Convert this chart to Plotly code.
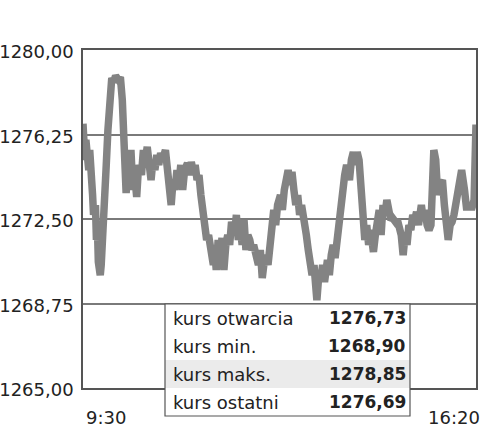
import plotly.graph_objects as go

# minutes after 9:30 and index level
minutes = [0, 1, 2, 3, 4, 5, 6, 7, 8, 9, 10, 11, 13, 14, 15, 16, 18, 19, 20, 21,
           22, 24, 26, 28, 30, 32, 34, 37, 39, 41, 43, 44, 45, 47, 48, 50, 52, 54, 56, 58,
           61, 63, 65, 67, 69, 71, 73, 75, 77, 79, 81, 83, 86, 88, 90, 92, 94, 96, 98, 100,
           102, 104, 106, 109, 111, 113, 115, 117, 119, 121, 123, 125, 127, 129, 131, 134, 136, 137, 139, 141,
           143, 145, 147, 149, 151, 153, 155, 158, 160, 162, 164, 166, 168, 170, 172, 174, 176, 178, 180, 183,
           185, 187, 189, 191, 193, 195, 197, 199, 201, 203, 206, 208, 210, 212, 214, 216, 218, 220, 222, 224,
           226, 228, 231, 233, 235, 237, 239, 241, 243, 244, 246, 248, 250, 252, 255, 257, 259, 261, 263, 265,
           267, 269, 271, 273, 275, 278, 280, 282, 284, 286, 288, 290, 292, 294, 296, 298, 300, 303, 305, 307,
           309, 311, 313, 315, 317, 319, 321, 323, 326, 328, 330, 332, 334, 336, 338, 340, 342, 344, 346, 348,
           350, 353, 355, 357, 359, 361, 363, 365, 366, 368, 370, 372, 375, 377, 379, 381, 383, 385, 387, 389,
           391, 393, 395, 398, 400, 402, 404, 406, 408, 410]

prices = [1276.73, 1275.78, 1275.12, 1276.01, 1274.90, 1275.78, 1274.67, 1275.56, 1274.01, 1274.90,
          1273.56, 1272.68, 1273.12, 1271.57, 1272.23, 1270.59, 1270.01, 1270.46, 1271.12, 1272.01,
          1273.12, 1274.67, 1276.45, 1278.00, 1278.76, 1278.58, 1278.85, 1278.67, 1278.80, 1277.78,
          1276.01, 1274.67, 1273.65, 1275.12, 1273.79, 1275.56, 1273.79, 1274.45, 1273.48, 1274.90,
          1274.45, 1275.56, 1275.12, 1275.70, 1274.67, 1274.23, 1275.12, 1274.67, 1275.34, 1274.90,
          1275.43, 1275.12, 1275.56, 1274.45, 1273.56, 1273.12, 1274.23, 1273.79, 1274.67, 1274.01,
          1274.90, 1273.79, 1274.67, 1274.98, 1274.45, 1275.03, 1274.59, 1274.90, 1274.23, 1274.45,
          1273.56, 1272.90, 1272.46, 1271.57, 1271.79, 1270.90, 1270.46, 1271.35, 1270.24, 1271.57,
          1270.68, 1271.66, 1270.24, 1271.35, 1271.79, 1271.35, 1272.37, 1271.79, 1272.68, 1271.57,
          1272.23, 1271.35, 1272.46, 1271.12, 1271.79, 1271.57, 1271.12, 1271.35, 1270.90, 1270.46,
          1271.12, 1269.88, 1270.59, 1270.90, 1270.46, 1271.35, 1272.01, 1272.90, 1272.23, 1273.12,
          1273.56, 1272.90, 1273.79, 1274.23, 1274.67, 1274.01, 1274.59, 1273.79, 1273.12, 1273.56,
          1272.68, 1273.12, 1272.46, 1271.79, 1271.12, 1270.59, 1270.01, 1270.46, 1269.35, 1268.90,
          1270.01, 1269.79, 1270.46, 1269.70, 1270.68, 1270.01, 1270.90, 1271.35, 1270.77, 1271.57,
          1272.23, 1273.34, 1274.01, 1274.45, 1274.90, 1274.23, 1275.12, 1275.47, 1274.90, 1275.47,
          1275.12, 1273.79, 1272.68, 1271.57, 1272.23, 1271.35, 1272.01, 1271.04, 1271.79, 1272.46,
          1272.90, 1271.79, 1273.12, 1272.68, 1273.34, 1272.90, 1272.46, 1272.54, 1272.37, 1272.46,
          1272.23, 1271.79, 1270.90, 1271.79, 1271.35, 1272.23, 1272.01, 1272.68, 1272.46, 1272.81,
          1272.23, 1273.12, 1272.46, 1272.90, 1272.23, 1272.01, 1272.23, 1274.23, 1275.56, 1275.12,
          1273.56, 1274.01, 1274.23, 1273.12, 1272.46, 1271.57, 1272.23, 1272.37, 1272.68, 1273.34,
          1273.56, 1274.45, 1274.67, 1273.79, 1273.03, 1273.03, 1273.03, 1273.03, 1273.34, 1276.69]

y_ticks = [1265.00, 1268.75, 1272.50, 1276.25, 1280.00]
y_tick_labels = ["1265,00", "1268,75", "1272,50", "1276,25", "1280,00"]
x_labels = ["9:30", "16:20"]

table_labels = ["kurs otwarcia", "kurs min.", "kurs maks.", "kurs ostatni"]
table_values = ["1276,73", "1268,90", "1278,85", "1276,69"]

W, H = 500, 441
L, R, T, B = 83, 476, 50, 388


def px(x):
    return (x - L) / (R - L)


def py(y):
    return (B - y) / (B - T)


fig = go.Figure()

fig.add_trace(go.Scatter(
    x=minutes, y=prices, mode="lines",
    line=dict(color="#838383", width=7.5),
    hoverinfo="skip", showlegend=False
))

shapes = []
annotations = []

# inset table
tx0, tx1, ty0, row_h = 165, 410, 304, 28
shapes.append(dict(type="rect", xref="paper", yref="paper",
                   x0=px(tx0), x1=px(tx1), y0=py(ty0 + 4 * row_h), y1=py(ty0),
                   fillcolor="white", line=dict(width=0), layer="above"))
shapes.append(dict(type="rect", xref="paper", yref="paper",
                   x0=px(tx0), x1=px(tx1), y0=py(ty0 + 3 * row_h), y1=py(ty0 + 2 * row_h),
                   fillcolor="#ebebeb", line=dict(width=0), layer="above"))
shapes.append(dict(type="rect", xref="paper", yref="paper",
                   x0=px(tx0), x1=px(tx1), y0=py(ty0 + 4 * row_h), y1=py(ty0),
                   fillcolor="rgba(0,0,0,0)", line=dict(color="#555555", width=1.2), layer="above"))

for i, (lab, val) in enumerate(zip(table_labels, table_values)):
    yc = py(ty0 + row_h * (i + 0.5))
    annotations.append(dict(xref="paper", yref="paper", x=px(171), y=yc,
                            text=lab, showarrow=False, xanchor="left", yanchor="middle",
                            font=dict(family="DejaVu Sans", size=18, color="#222222")))
    annotations.append(dict(xref="paper", yref="paper", x=px(408), y=yc,
                            text="<b>" + val + "</b>", showarrow=False, xanchor="right", yanchor="middle",
                            font=dict(family="DejaVu Sans", size=17, color="#222222")))

annotations.append(dict(xref="x", yref="paper", x=minutes[0], y=py(417), text=x_labels[0],
                        showarrow=False, xanchor="left", yanchor="middle", xshift=1,
                        font=dict(family="DejaVu Sans", size=18, color="#222222")))
annotations.append(dict(xref="x", yref="paper", x=minutes[-1], y=py(417), text=x_labels[1],
                        showarrow=False, xanchor="right", yanchor="middle", xshift=6,
                        font=dict(family="DejaVu Sans", size=18, color="#222222")))

fig.update_layout(
    width=W, height=H,
    margin=dict(l=L, r=W - R, t=T, b=H - B, autoexpand=False),
    paper_bgcolor="white", plot_bgcolor="white",
    shapes=shapes, annotations=annotations,
    xaxis=dict(range=[0, 410], showgrid=False, showticklabels=False, zeroline=False,
               automargin=False,
               showline=True, mirror=True, linecolor="#555555", linewidth=1.5),
    yaxis=dict(range=[1265, 1280], tickvals=y_ticks, ticktext=y_tick_labels,
               showgrid=True, gridcolor="#7a7a7a", gridwidth=1.5, zeroline=False,
               automargin=False, ticklabelstandoff=4, ticklabelshift=2,
               showline=True, mirror=True, linecolor="#555555", linewidth=1.5,
               ticks="", tickfont=dict(family="DejaVu Sans", size=18, color="#222222")),
)

fig.write_html("out.html", config={"displayModeBar": False},
               post_script="document.body.style.margin='0';")
